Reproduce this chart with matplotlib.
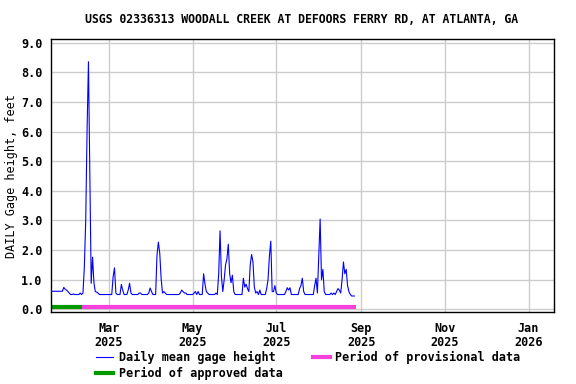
import matplotlib
matplotlib.use("Agg")
import matplotlib.dates as mdates
import matplotlib.pyplot as plt
import pandas as pd
from matplotlib.lines import Line2D
from matplotlib.ticker import FormatStrFormatter

# Daily mean gage height, feet, starting 2025-01-18
start_date = "2025-01-18"
gage_height = [
    0.61, 0.61, 0.61, 0.61, 0.61, 0.61, 0.61,
    0.61, 0.61, 0.74, 0.68, 0.65, 0.60, 0.55,
    0.50, 0.50, 0.52, 0.50, 0.50, 0.50, 0.50,
    0.55, 0.50, 0.55, 1.42, 2.98, 6.06, 8.36,
    4.65, 0.88, 1.76, 0.90, 0.60, 0.58, 0.55,
    0.50, 0.50, 0.50, 0.50, 0.50, 0.50, 0.50,
    0.50, 0.50, 0.50, 1.10, 1.40, 0.55, 0.50,
    0.50, 0.50, 0.84, 0.65, 0.50, 0.50, 0.50,
    0.65, 0.88, 0.55, 0.50, 0.50, 0.50, 0.50,
    0.50, 0.55, 0.55, 0.50, 0.50, 0.50, 0.50,
    0.50, 0.55, 0.72, 0.60, 0.50, 0.50, 0.50,
    1.83, 2.27, 1.90, 1.05, 0.55, 0.60, 0.55,
    0.50, 0.50, 0.50, 0.50, 0.50, 0.50, 0.50,
    0.50, 0.50, 0.50, 0.55, 0.65, 0.60, 0.55,
    0.55, 0.50, 0.50, 0.50, 0.50, 0.50, 0.55,
    0.60, 0.50, 0.60, 0.50, 0.50, 0.50, 1.20,
    0.85, 0.60, 0.55, 0.50, 0.50, 0.50, 0.50,
    0.50, 0.55, 0.50, 1.20, 2.65, 1.10, 0.60,
    1.00, 1.50, 1.70, 2.20, 1.20, 0.90, 1.15,
    0.60, 0.50, 0.50, 0.50, 0.50, 0.50, 0.50,
    1.05, 0.75, 0.85, 0.70, 0.60, 1.50, 1.85,
    1.60, 0.75, 0.55, 0.60, 0.50, 0.65, 0.50,
    0.50, 0.50, 0.50, 0.70, 1.00, 1.80, 2.30,
    0.60, 0.60, 0.80, 0.55, 0.50, 0.50, 0.50,
    0.50, 0.50, 0.50, 0.60, 0.73, 0.65, 0.73,
    0.50, 0.50, 0.50, 0.50, 0.50, 0.50, 0.70,
    0.80, 1.05, 0.60, 0.50, 0.50, 0.50, 0.50,
    0.50, 0.50, 0.50, 0.80, 1.05, 0.55, 1.80,
    3.05, 1.00, 1.35, 0.60, 0.50, 0.50, 0.50,
    0.50, 0.55, 0.50, 0.55, 0.50, 0.60, 0.70,
    0.65, 0.55, 1.00, 1.60, 1.20, 1.35, 0.80,
    0.60, 0.50, 0.45, 0.45, 0.45,
]

# data-approval periods
approved_period = ["2025-01-17 12:00", "2025-02-09 12:00"]
provisional_period = ["2025-02-09 12:00", "2025-08-28 12:00"]

tick_dates = ["2025-03-01", "2025-05-01", "2025-07-01",
              "2025-09-01", "2025-11-01", "2026-01-01"]
tick_labels = ["Mar\n2025", "May\n2025", "Jul\n2025",
               "Sep\n2025", "Nov\n2025", "Jan\n2026"]

dates = pd.date_range(start_date, periods=len(gage_height), freq="D")

plt.rcParams["font.family"] = "DejaVu Sans Mono"
plt.rcParams["font.weight"] = "bold"
plt.rcParams["font.size"] = 8.5

fig = plt.figure(figsize=(5.76, 3.84), dpi=100)
ax = fig.add_axes([0.0885, 0.1875, 0.8735, 0.7105])

ax.plot(dates, gage_height, color="#0000ff", linewidth=0.8, zorder=3)

bar_y = 0.08
ax.plot(pd.to_datetime(approved_period), [bar_y, bar_y],
        color="#009900", linewidth=3, solid_capstyle="butt", zorder=2)
ax.plot(pd.to_datetime(provisional_period), [bar_y, bar_y],
        color="#f840dc", linewidth=3, solid_capstyle="butt", zorder=2)

ax.set_xlim(pd.Timestamp("2025-01-17 16:00"), pd.Timestamp("2026-01-19 16:00"))
ax.set_ylim(-0.09, 9.12)

ax.set_yticks(range(0, 10))
ax.yaxis.set_major_formatter(FormatStrFormatter("%.1f"))
ax.set_xticks(pd.to_datetime(tick_dates))
ax.set_xticklabels(tick_labels, linespacing=1.15)
ax.tick_params(length=0, pad=6)
ax.tick_params(axis="x", pad=7)

ax.grid(True, color="#cccccc", linewidth=1.0)
ax.set_axisbelow(True)
for spine in ax.spines.values():
    spine.set_linewidth(1.0)
    spine.set_color("black")

ax.set_ylabel("DAILY Gage height, feet")
ax.yaxis.set_label_coords(-0.066, 0.5)

fig.text(0.524, 0.95, "USGS 02336313 WOODALL CREEK AT DEFOORS FERRY RD, AT ATLANTA, GA",
         ha="center", va="center", fontsize=8.3)

handles = [
    Line2D([], [], color="#0000ff", linewidth=0.8),
    Line2D([], [], color="#009900", linewidth=3),
    Line2D([], [], color="#f840dc", linewidth=3),
]
labels = ["Daily mean gage height", "Period of approved data",
          "Period of provisional data"]
fig.legend(handles, labels, ncol=2, loc="upper left",
           bbox_to_anchor=(0.167, 0.087), frameon=False,
           handlelength=1.45, handletextpad=0.45, columnspacing=2.55,
           labelspacing=0.25, borderaxespad=0, borderpad=0)

fig.savefig("out.png", dpi=100)
